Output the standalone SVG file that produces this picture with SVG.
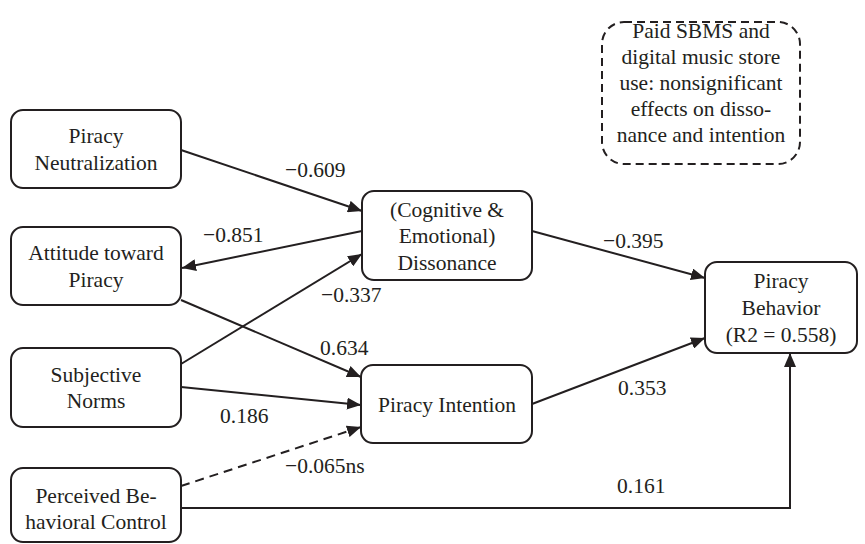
<svg xmlns="http://www.w3.org/2000/svg" width="865" height="544" viewBox="0 0 865 544">
<defs>
<marker id="arr" viewBox="0 0 14 12" refX="14" refY="6" markerWidth="14" markerHeight="12" markerUnits="userSpaceOnUse" orient="auto">
<path d="M0,0 L14,6 L0,12 Z" fill="#231f20"/>
</marker>
</defs>
<style>
text{font-size:21.5px;fill:#231f20}
.n text{text-anchor:middle}
.box{fill:#fff;stroke:#231f20;stroke-width:2}
.note{fill:#fff;stroke:#231f20;stroke-width:2;stroke-dasharray:8 5}
.c{fill:none;stroke:#231f20;stroke-width:2;marker-end:url(#arr)}
.d{stroke-dasharray:9 6}
</style>
<rect width="865" height="544" fill="#fff"/>
<g font-family="Liberation Serif, DejaVu Serif, serif">
<g id="connectors">
<line class="c" x1="181" y1="150" x2="362" y2="211"/>
<line class="c" x1="362" y1="231" x2="182" y2="268"/>
<line class="c" x1="181" y1="300" x2="361" y2="377"/>
<line class="c" x1="181" y1="364" x2="362" y2="254"/>
<line class="c" x1="181" y1="387" x2="361" y2="405"/>
<line class="c d" x1="181" y1="486" x2="361" y2="427"/>
<polyline class="c" points="181,508 790,508 790,353"/>
<line class="c" x1="532" y1="231" x2="705" y2="278"/>
<line class="c" x1="532" y1="404" x2="705" y2="338"/>
<text x="285" y="177">−0.609</text>
<text x="203" y="242">−0.851</text>
<text x="321" y="302">−0.337</text>
<text x="320" y="355">0.634</text>
<text x="220" y="423">0.186</text>
<text x="285" y="473">−0.065ns</text>
<text x="603" y="248">−0.395</text>
<text x="618" y="395">0.353</text>
<text x="617" y="493">0.161</text>
</g>
<g id="note" class="n">
<rect class="note" x="602" y="22" width="198" height="142" rx="22"/>
<text x="701" y="38">Paid SBMS and</text>
<text x="701" y="64">digital music store</text>
<text x="701" y="90">use: nonsignificant</text>
<text x="701" y="116">effects on disso-</text>
<text x="701" y="142">nance and intention</text>
</g>
<g id="piracy-neutralization" class="n">
<rect class="box" x="11" y="110" width="170" height="78" rx="12"/>
<text x="96" y="143">Piracy</text>
<text x="96" y="170">Neutralization</text>
</g>
<g id="attitude" class="n">
<rect class="box" x="11" y="227" width="170" height="78" rx="12"/>
<text x="96" y="260">Attitude toward</text>
<text x="96" y="287">Piracy</text>
</g>
<g id="subjective-norms" class="n">
<rect class="box" x="11" y="348" width="170" height="79" rx="12"/>
<text x="96" y="382">Subjective</text>
<text x="96" y="408">Norms</text>
</g>
<g id="pbc" class="n">
<rect class="box" x="11" y="468" width="170" height="74" rx="12"/>
<text x="96" y="503">Perceived Be-</text>
<text x="96" y="529">havioral Control</text>
</g>
<g id="dissonance" class="n">
<rect class="box" x="362" y="191" width="170" height="89" rx="12"/>
<text x="447" y="217">(Cognitive &amp;</text>
<text x="447" y="243">Emotional)</text>
<text x="447" y="270">Dissonance</text>
</g>
<g id="piracy-intention" class="n">
<rect class="box" x="361" y="365" width="171" height="78" rx="12"/>
<text x="447" y="412">Piracy Intention</text>
</g>
<g id="piracy-behavior" class="n">
<rect class="box" x="705" y="262" width="152" height="91" rx="12"/>
<text x="781" y="288">Piracy</text>
<text x="781" y="315">Behavior</text>
<text x="781" y="342">(R2 = 0.558)</text>
</g>
</g>
</svg>
